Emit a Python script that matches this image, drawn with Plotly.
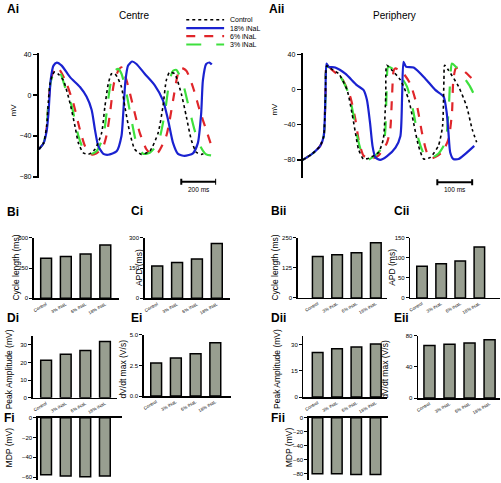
import plotly.graph_objects as go

W, H = 501, 483
FONT = "Liberation Sans, Arial, sans-serif"

# ---------------- Action potential traces (time ms, voltage mV) ----------------
# Centre (Ai)
ai_ctrl_t = [0, 27, 45, 55, 65, 78, 92, 115, 141, 179, 208, 227, 255, 284, 322, 360, 379, 398, 417, 436,
             455, 474, 493, 522, 550, 588, 636, 684, 712, 731, 750, 779, 817, 846, 874, 903, 931, 950]
ai_ctrl_v = [-53, -47, -30, -5, 12, 20, 23, 20, 14.5, -8, -31, -47, -56.5, -58, -53, -37, -11, 11, 21, 21,
             16, 8, -11, -37, -53, -58, -55, -37, -11, 14.5, 22.5, 21, 1.5, -21, -43.5, -56, -58, -57]
ai_18_t = [0, 27, 45, 55, 68, 84, 103, 131, 179, 236, 274, 303, 322, 341, 370, 398, 446, 474, 484, 497,
           512, 535, 560, 607, 665, 712, 741, 770, 798, 836, 884, 912, 931, 941, 960, 979, 992]
ai_18_v = [-53, -47, -35, -18, 15, 29, 32, 29, 17.7, 8, -1.6, -14.5, -34, -50, -57.5, -58.4, -55, -40, -18, 14.5,
           29, 33, 30.6, 21, 9.7, -5, -24, -47, -57.5, -59.5, -57, -47, -18, 14.5, 30.6, 32, 30]
ai_6_t = [0, 27, 45, 55, 68, 85, 107, 130, 160, 198, 236, 265, 303, 331, 370, 390, 408, 430, 455, 474,
          503, 541, 579, 617, 646, 684, 731, 750, 770, 798, 817, 846, 884, 922, 960, 988]
ai_6_v = [-53, -47, -32, -8, 14, 24, 27.4, 22, 11, -8, -34, -50, -58, -57, -50, -38, -18, 11, 24, 27.4,
          14.5, -11, -37, -53, -58, -56, -40, -25, -5, 21, 26.7, 24, 8, -14.5, -34, -48.5]
ai_3_t = [0, 27, 45, 55, 68, 85, 100, 125, 150, 189, 227, 265, 293, 331, 370, 393, 411, 436, 455, 474,
          503, 531, 560, 598, 636, 684, 722, 750, 770, 789, 827, 855, 893, 931, 960, 988]
ai_3_v = [-53, -47, -31, -7, 13, 22, 25.5, 21, 8, -11, -40, -56.5, -58, -55, -40, -11, 11, 24, 25.8, 21,
          1.5, -24, -47, -57.5, -56.5, -47, -18, 14.5, 24, 24.8, 11, -8, -34, -51.5, -58, -59]

# Periphery (Aii)
aii_ctrl_t = [0, 27, 50, 60, 65, 69, 80, 103, 127, 141, 151, 160, 174, 189, 217, 231, 238, 241, 256, 280,
              304, 318, 332, 347, 366, 389, 401, 405, 407, 418, 447, 470, 486, 499]
aii_ctrl_v = [-80, -73, -64, -53, -8, 27, 24, 18, -0.4, -26.6, -49, -68, -79, -78, -71.5, -56.5, -8, 27.7, 22, 11,
              -11.6, -38, -64, -79, -77, -64, -41.6, 11, 27.7, 22, 3.4, -19, -45, -60]
aii_18_t = [0, 27, 50, 60, 65, 68, 74, 93, 122, 155, 174, 184, 193, 200, 208, 222, 241, 266, 280, 285,
            289, 296, 318, 351, 380, 404, 413, 418, 423, 432, 447, 492]
aii_18_v = [-80, -73, -64, -53, -8, 29.6, 26, 25, 18, 5, -0.4, -11.6, -38, -64, -77, -80, -76, -66, -53, -8,
            31.5, 26, 25, 12.7, -0.4, -8, -26.6, -49, -71.5, -79, -79, -64]
aii_6_t = [0, 27, 50, 60, 65, 69, 85, 112, 136, 151, 160, 174, 193, 217, 231, 242, 251, 256, 261, 266,
           285, 308, 328, 342, 356, 371, 399, 418, 428, 432, 439, 451, 475, 494]
aii_6_v = [-80, -73, -64, -53, -8, 28, 22, 12.7, -8, -34, -56.5, -75, -79, -75, -68, -60, -45, -8, 22, 24,
           20, 7, -19, -49, -71.5, -78, -71.5, -56.5, -26.6, 11, 24, 25, 16.5, 9]
aii_3_t = [0, 27, 50, 60, 65, 69, 85, 108, 131, 146, 158, 170, 184, 208, 231, 237, 240, 245, 256, 275,
           299, 318, 332, 347, 361, 389, 409, 418, 423, 428, 439, 461, 480, 494]
aii_3_v = [-80, -73, -64, -53, -8, 26, 22, 14.6, -4, -30, -56.5, -73, -80, -75, -64, -45, -8, 26, 24, 18,
           3.4, -26.6, -56.5, -73, -79, -73, -60, -26.6, 11, 29.6, 26, 14.6, 3.4, -8]

series_names = ["Control", "18% iNaL", "6% iNaL", "3% iNaL"]
categories = ["Control", "3% iNaL", "6% iNaL", "18% iNaL"]

# ---------------- Bar values (Control, 3%, 6%, 18%) ----------------
cycle_centre = [330, 345, 365, 440]
apd_centre = [160, 177, 195, 272]
peak_centre = [21.2, 24.6, 26.8, 31.8]
dvdt_centre = [2.7, 3.1, 3.45, 4.35]
mdp_centre = [-57.7, -59, -59.7, -59]
cycle_periph = [172, 179, 188, 229]
apd_periph = [79, 85, 92, 127]
peak_periph = [25.5, 27.7, 28.7, 30.4]
dvdt_periph = [67.4, 69, 70.7, 75]
mdp_periph = [-80, -80, -81, -81]


def X(px):
    return px / W


def Y(py):
    return 1 - py / H


fig = go.Figure()
layout = dict(width=W, height=H, margin=dict(l=0, r=0, t=0, b=0), paper_bgcolor="white",
              plot_bgcolor="white", showlegend=False, font=dict(family=FONT, color="black"))

styles = {
    "Control": dict(color="black", width=1.6, dash="dot"),
    "18% iNaL": dict(color="#1a22d0", width=2.2, dash="solid"),
    "6% iNaL": dict(color="#e0262a", width=2.2, dash="dash"),
    "3% iNaL": dict(color="#3ee03e", width=2.2, dash="longdash"),
}

trace_sets = {
    1: {"Control": (ai_ctrl_t, ai_ctrl_v), "18% iNaL": (ai_18_t, ai_18_v),
        "6% iNaL": (ai_6_t, ai_6_v), "3% iNaL": (ai_3_t, ai_3_v)},
    2: {"Control": (aii_ctrl_t, aii_ctrl_v), "18% iNaL": (aii_18_t, aii_18_v),
        "6% iNaL": (aii_6_t, aii_6_v), "3% iNaL": (aii_3_t, aii_3_v)},
}

# trace panels: (axis index, x px domain, y px domain, x range, y range)
trace_panels = [
    (1, (37, 215), (51, 177), [0, 1017], [-81, 41]),
    (2, (302, 478), (50.7, 176.7), [0, 503], [-100, 41.5]),
]
draw_order = ["6% iNaL", "3% iNaL", "18% iNaL", "Control"]
for idx, xd, yd, xr, yr in trace_panels:
    for name in draw_order:
        t, v = trace_sets[idx][name]
        fig.add_trace(go.Scatter(x=t, y=v, mode="lines", name=name,
                                 line=dict(shape="spline", smoothing=0.6, **styles[name]),
                                 xaxis="x%d" % idx, yaxis="y%d" % idx, hoverinfo="skip"))
    layout["xaxis%d" % idx] = dict(domain=[X(xd[0]), X(xd[1])], range=xr, visible=False,
                                   anchor="y%d" % idx)
    layout["yaxis%d" % idx] = dict(domain=[Y(yd[1]), Y(yd[0])], range=yr, anchor="x%d" % idx,
                                   showline=True, linewidth=2, linecolor="black", ticks="outside",
                                   ticklen=4, tickwidth=1.5, tickcolor="black",
                                   tickvals=[-80, -40, 0, 40], tickfont=dict(size=7),
                                   showgrid=False, zeroline=False)

# bar panels: (values, x px domain, x cat range, y px domain, y range, tickvals)
bar_panels = [
    (cycle_centre, (32, 117), [-0.62, 3.67], (237.7, 299), [0, 500], [0, 250, 500], True),
    (apd_centre, (143.3, 229), [-0.63, 3.67], (237.7, 299), [0, 300], [0, 150, 300], True),
    (cycle_periph, (297, 387), [-1.03, 3.6], (237.7, 298.7), [0, 250], [0, 125, 250], True),
    (apd_periph, (410, 500), [-0.61, 4.08], (237.7, 298.7), [0, 150], [0, 50, 100, 150], True),
    (peak_centre, (30.7, 115), [-0.69, 3.59], (337.1, 399.7), [0, 35], [0, 10, 20, 30], True),
    (dvdt_centre, (142.3, 230), [-0.63, 3.8], (336, 398), [0, 5], [0, 2.5, 5], True),
    (peak_periph, (302.7, 387), [-0.73, 3.6], (337.2, 399), [0, 35], [0, 15, 30], True),
    (dvdt_periph, (417.7, 500), [-0.57, 3.52], (337, 400), [0, 80], [0, 40, 80], True),
    (mdp_centre, (36, 120), [-0.42, 3.85], (420, 483), [-63, 0], [-60, -40, -20, 0], False),
    (mdp_periph, (308, 388), [-0.45, 3.67], (420, 483), [-88.9, 0], [-80, -60, -40, -20, 0], False),
]
tickformats = {5: ".1f"}
for k, (vals, xd, xr, yd, yr, tv, bottom) in enumerate(bar_panels):
    idx = k + 3
    fig.add_trace(go.Bar(x=categories, y=vals, width=0.55,
                         marker=dict(color="#989e90", line=dict(color="black", width=1.5)),
                         xaxis="x%d" % idx, yaxis="y%d" % idx, hoverinfo="skip"))
    layout["xaxis%d" % idx] = dict(domain=[X(xd[0]), X(xd[1])], range=xr, type="category",
                                   anchor="y%d" % idx, showline=True, linewidth=1.5,
                                   linecolor="black", ticks="", tickangle=-30,
                                   tickfont=dict(size=4.5), showticklabels=bottom,
                                   side="bottom" if bottom else "top", showgrid=False,
                                   zeroline=False)
    ya = dict(domain=[Y(yd[1]), Y(yd[0])], range=yr, anchor="x%d" % idx, showline=True,
              linewidth=1.5, linecolor="black", ticks="outside", ticklen=3, tickwidth=1,
              tickcolor="black", tickvals=tv, tickfont=dict(size=6), showgrid=False,
              zeroline=False)
    if k in tickformats:
        ya["tickformat"] = tickformats[k]
    layout["yaxis%d" % idx] = ya

annotations = []


def ann(text, px, py, size, bold=False, angle=0, xanchor="center"):
    annotations.append(dict(text="<b>%s</b>" % text if bold else text, x=X(px), y=Y(py),
                            xref="paper", yref="paper", showarrow=False, textangle=angle,
                            xanchor=xanchor, yanchor="middle", font=dict(size=size)))


# panel labels
for lab, px, py in [("Ai", 3, 6.5), ("Aii", 266, 6.5), ("Bi", 3, 211.5), ("Ci", 128, 211),
                    ("Bii", 268, 211), ("Cii", 392, 211), ("Di", 3, 319), ("Ei", 128, 319),
                    ("Dii", 268, 319), ("Eii", 392, 319), ("Fi", 0, 420.5), ("Fii", 268, 420)]:
    ann(lab, px, py, 12, bold=True, xanchor="left")

ann("Centre", 133, 13, 10)
ann("Periphery", 394, 13, 10)
ann("mV", 11.7, 108, 8, angle=-90)
ann("mV", 274, 107, 8, angle=-90)

for text, px, py in [("Cycle length (ms)", 14, 268), ("APD (ms)", 137, 268),
                     ("Cycle length (ms)", 274, 268), ("APD (ms)", 391.7, 268),
                     ("Peak Amplitude (mV)", 7, 371), ("dV/dt max (V/s)", 121.7, 371),
                     ("Peak Amplitude (mV)", 276.7, 371), ("dV/dt max (V/s)", 385, 371),
                     ("MDP (mV)", 7, 450), ("MDP (mV)", 289, 450)]:
    ann(text, px, py, 8.5, angle=-90)

# legend (drawn manually)
shapes = []
for name, py in zip(series_names, [17, 25.5, 33.5, 42]):
    st = styles[name]
    shapes.append(dict(type="line", xref="paper", yref="paper", x0=X(185), x1=X(223), y0=Y(py),
                       y1=Y(py), line=dict(color=st["color"], width=st["width"], dash=st["dash"])))
    ann(name, 227, py, 7, xanchor="left")

# scale bars
for xref, x1, length, py, label in [("x", 1017, 200, 181, "200 ms"), ("x2", 486, 100, 181.5, "100 ms")]:
    x0 = x1 - length
    shapes.append(dict(type="line", xref=xref, yref="paper", x0=x0, x1=x1, y0=Y(py), y1=Y(py),
                       line=dict(color="black", width=2)))
    for xe in (x0, x1):
        shapes.append(dict(type="line", xref=xref, yref="paper", x0=xe, x1=xe, y0=Y(py - 3),
                           y1=Y(py + 3), line=dict(color="black", width=2)))
    annotations.append(dict(text=label, x=(x0 + x1) / 2, y=Y(py + 7.5), xref=xref, yref="paper",
                            showarrow=False, xanchor="center", yanchor="middle",
                            font=dict(size=6.5)))

layout["annotations"] = annotations
layout["shapes"] = shapes
fig.update_layout(**layout)
fig.write_html("out.html", config={"displayModeBar": False, "staticPlot": True},
               post_script="document.body.style.margin='0';document.body.style.overflow='hidden';")
